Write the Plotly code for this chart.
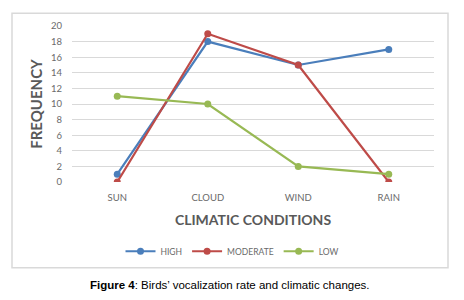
import plotly.graph_objects as go

categories = ["SUN", "CLOUD", "WIND", "RAIN"]
high = [1, 18, 15, 17]
moderate = [0, 19, 15, 0]
low = [11, 10, 2, 1]
y_ticks = [0, 2, 4, 6, 8, 10, 12, 14, 16, 18, 20]

# page body has an 8px default margin; work in target-image pixels and offset
OFF = 8
W, H = 464 - OFF, 300 - OFF
PL, PR, PT, PB = 72, 434, 22, 182  # plot area in target pixels
L, T = PL - OFF, PT - OFF
R, B = W - (PR - OFF), H - (PB - OFF)
pw, ph = PR - PL, PB - PT

def px(x):
    return (x - PL) / pw

def py(y):
    return (PB - y) / ph

fig = go.Figure()
for name, vals, col in [("HIGH", high, "#4A7EBB"), ("MODERATE", moderate, "#BE4B48"), ("LOW", low, "#98B954")]:
    fig.add_trace(go.Scatter(x=categories, y=vals, name=name, mode="lines+markers",
                             line=dict(color=col, width=2.2),
                             marker=dict(color=col, size=7)))

font_c = "Lato, 'Open Sans', sans-serif"
tick_col = "#6A6A6A"
fig.update_layout(
    width=W, height=H, margin=dict(l=L, r=R, t=T, b=B),
    paper_bgcolor="white", plot_bgcolor="white",
    showlegend=True,
    legend=dict(orientation="h", x=px(232), xanchor="center", y=py(253), yanchor="middle",
                font=dict(family=font_c, size=8.5, color=tick_col), itemwidth=30,
                tracegroupgap=0, bgcolor="rgba(0,0,0,0)"),
    xaxis=dict(range=[-0.5, 3.5], showgrid=False, zeroline=False, showline=False,
               ticks="", ticklabelstandoff=8,
               tickfont=dict(family=font_c, size=9.5, color=tick_col),
               title=dict(text="<b>CLIMATIC CONDITIONS</b>", standoff=13,
                          font=dict(family=font_c, size=14, color="#595959"))),
    yaxis=dict(range=[0, 20], tickvals=y_ticks, showgrid=True, gridcolor="#D9D9D9",
               gridwidth=1, zeroline=False, showline=False, ticks="", ticklabelstandoff=9,
               tickfont=dict(family=font_c, size=9.5, color=tick_col),
               title=dict(text="<b>FREQUENCY</b>", standoff=4,
                          font=dict(family=font_c, size=15, color="#595959"))),
)
fig.add_shape(type="rect", xref="paper", yref="paper",
              x0=px(12), x1=px(448), y0=py(270), y1=py(9),
              line=dict(color="#D9D9D9", width=1.5), layer="below")
fig.add_annotation(xref="paper", yref="paper", x=px(230), y=py(288),
                   text="<b>Figure 4</b>: Birds’ vocalization rate and climatic changes.",
                   showarrow=False, xanchor="center", yanchor="middle",
                   font=dict(family="'Liberation Sans', Arial, sans-serif", size=11.5, color="black"))
fig.write_html("out.html")
